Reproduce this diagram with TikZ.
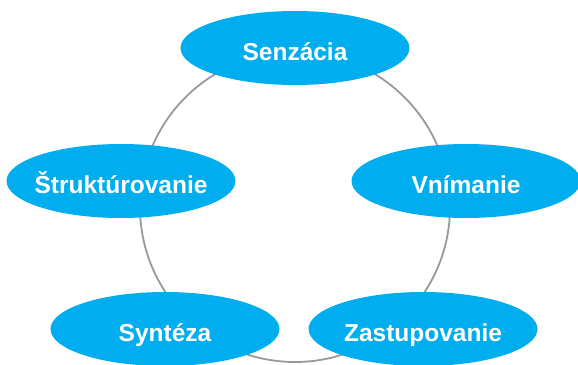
\documentclass[tikz,border=0pt]{standalone}
\usepackage{fontspec}
\setmainfont{Liberation Sans}
\usepackage{tikz}
\usetikzlibrary{shapes.geometric}

\definecolor{stepblue}{HTML}{00AEEF}
\definecolor{ringgray}{HTML}{999999}

\begin{document}
\begin{tikzpicture}[x=1pt, y=-1pt,
    stage/.style={ellipse, fill=stepblue, minimum width=229pt, minimum height=74pt,
        inner ysep=0pt, inner xsep=-12pt,
        text height=24pt, text depth=0pt,
        text=white, font=\fontsize{24.5}{28}\selectfont\bfseries}]
    \useasboundingbox (0, 0) rectangle (578, 364); % REMOVE ME
    \coordinate (ring) at (295, 207);
    \draw[ringgray, line width=1.8pt] (ring) circle (155pt);
    \node[stage] (senz) at (295, 48) {Senzácia};
    \node[stage] (vnim) at (466, 181) {Vnímanie};
    \node[stage] (zast) at (423, 329) {Zastupovanie};
    \node[stage] (synt) at (165, 329) {Syntéza};
    \node[stage] (strk) at (121, 181) {Štruktúrovanie};
\end{tikzpicture}
\end{document}
